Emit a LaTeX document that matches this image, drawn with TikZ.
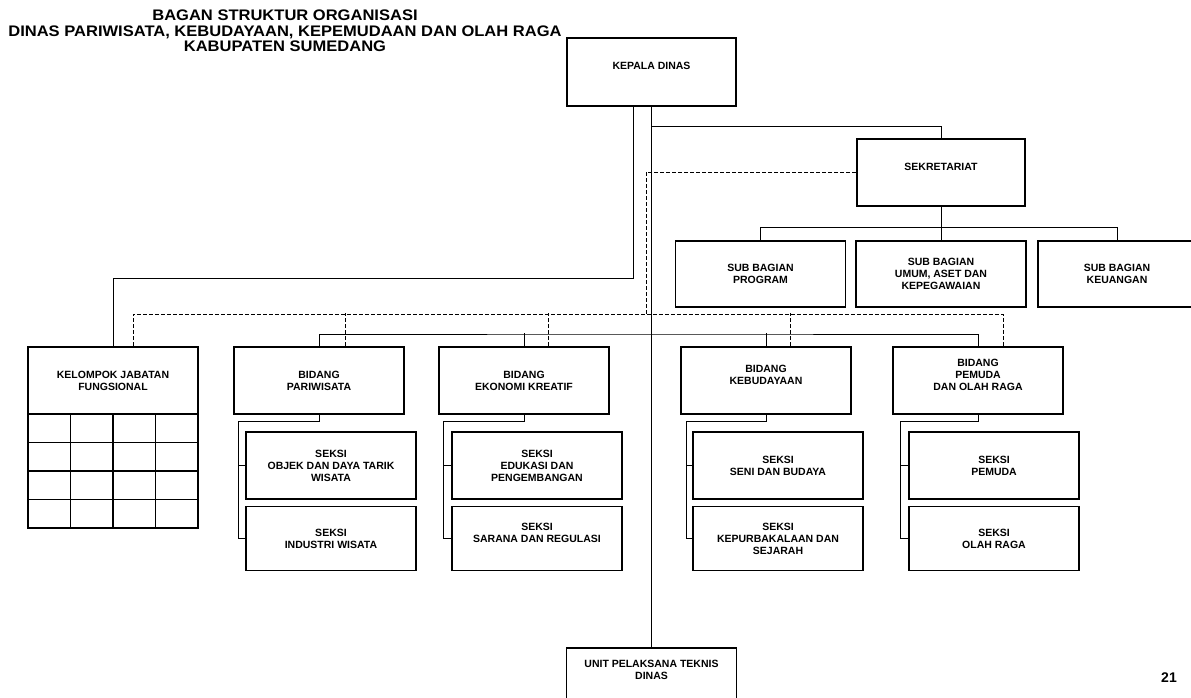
\documentclass[tikz,border=0pt]{standalone}
\usepackage{fontspec}
\setmainfont{Liberation Sans}
\newfontfamily\judulfont[FakeStretch=1.08]{Liberation Sans}
\tikzstyle{unit} = [rectangle, draw=black, line width=1.6pt, minimum width=170pt, minimum height=67pt, inner sep=2pt, align=center, font=\bfseries\fontsize{10.5}{12}\selectfont]
\tikzstyle{cell} = [rectangle, draw=black, line width=1.6pt, minimum width=42.5pt, minimum height=28.5pt]
\tikzstyle{judul} = [align=center, font=\judulfont\bfseries\fontsize{15.3}{15.5}\selectfont]
\tikzstyle{line} = [line width=0.9pt]
\tikzstyle{dline} = [line width=0.9pt, dash pattern=on 4pt off 2pt]
\newcommand{\spasi}{\\\mbox{}}

\begin{document}
\begin{tikzpicture}[x=1pt, y=-1pt, node distance=73pt]
	\useasboundingbox (0,0) rectangle (1191,698);
	
	\node (judul) [judul] at (285,31) {BAGAN STRUKTUR ORGANISASI\\DINAS PARIWISATA, KEBUDAYAAN, KEPEMUDAAN DAN OLAH RAGA\\KABUPATEN SUMEDANG};
	
	\node (kadis) [unit, minimum width=169pt, minimum height=68pt] at (651.5,72) {KEPALA DINAS\spasi};
	
	\node (sekre) [unit, minimum width=168pt] at (941,172.5) {SEKRETARIAT\spasi};
	
	\node (program) [unit, minimum height=66pt] at (760.5,274) {SUB BAGIAN\\PROGRAM};
	\node (umum) [unit, minimum height=66pt, right of=program, node distance=180.5pt] {SUB BAGIAN\\UMUM, ASET DAN\\KEPEGAWAIAN};
	\node (keuangan) [unit, minimum height=66pt, minimum width=158pt, right of=umum, node distance=176pt] {SUB BAGIAN\\KEUANGAN};
	
	\node (kjf) [unit] at (113,380.5) {KELOMPOK JABATAN\\FUNGSIONAL};
	\node (pariwisata) [unit, right of=kjf, node distance=206pt] {BIDANG\\PARIWISATA};
	\node (ekonomi) [unit, right of=pariwisata, node distance=205pt] {BIDANG\\EKONOMI KREATIF};
	\node (budaya) [unit, right of=ekonomi, node distance=242pt] {BIDANG\\KEBUDAYAAN\spasi};
	\node (pemuda) [unit, right of=budaya, node distance=212pt] {BIDANG\\PEMUDA\\DAN OLAH RAGA\spasi};
	
	\node (odtw) [unit, below of=pariwisata, node distance=85pt, xshift=12pt] {SEKSI\\OBJEK DAN DAYA TARIK\\WISATA};
	\node (industri) [unit, minimum height=64pt, below of=odtw] {SEKSI\\INDUSTRI WISATA};
	
	\node (edukasi) [unit, below of=ekonomi, node distance=85pt, xshift=13pt] {SEKSI\\EDUKASI DAN\\PENGEMBANGAN};
	\node (sarana) [unit, minimum height=64pt, below of=edukasi] {SEKSI\\SARANA DAN REGULASI\spasi};
	
	\node (seni) [unit, below of=budaya, node distance=85pt, xshift=12pt] {SEKSI\\SENI DAN BUDAYA};
	\node (sejarah) [unit, minimum height=64pt, below of=seni] {SEKSI\\KEPURBAKALAAN DAN\\SEJARAH};
	
	\node (spemuda) [unit, below of=pemuda, node distance=85pt, xshift=16pt] {SEKSI\\PEMUDA};
	\node (olahraga) [unit, minimum height=64pt, below of=spemuda] {SEKSI\\OLAH RAGA};
	
	\node (upt) [unit, below of=kadis, node distance=609.5pt] {UNIT PELAKSANA TEKNIS\\DINAS\spasi\spasi};
	
	% kotak jabatan fungsional
	\foreach \r in {0,...,3}
		\foreach \c in {0,...,3}
			\node (sel\r\c) [cell] at (49.25+42.5*\c, 428.25+28.5*\r) {};
	
	\node (hal) [font=\bfseries\fontsize{14}{14}\selectfont] at (1169,678) {21};
	
	% garis komando
	\coordinate (cabang) at (651.5,126);
	\coordinate (jfbar) at (633,278);
	\coordinate (subbar) at (941,227.5);
	\coordinate (bidbar) at (651.5,334);
	\coordinate (koor) at (646,314);
	
	\draw[line] (kadis.south) -- (upt.north);
	\draw[line] (cabang) -| (sekre.north);
	\draw[line] (jfbar |- kadis.south) -- (jfbar) -| (kjf.north);
	\draw[line] (sekre.south) -- (subbar);
	\draw[line] (program.north) |- (subbar) -| (keuangan.north);
	\draw[line] (umum.north) -- (subbar);
	\draw[line] (pariwisata.north) |- (bidbar) -| (pemuda.north);
	\draw[line] (ekonomi.north) -- ++(0,-13);
	\draw[line] (budaya.north) -- ++(0,-13);
	
	% garis koordinasi
	\draw[dline] (sekre.west) -| (koor);
	\draw[dline] ([xshift=20pt]kjf.north) |- (koor) -| ([xshift=25pt]pemuda.north);
	\draw[dline] ([xshift=26pt]pariwisata.north) -- ++(0,-33);
	\draw[dline] ([xshift=24pt]ekonomi.north) -- ++(0,-33);
	\draw[dline] ([xshift=24pt]budaya.north) -- ++(0,-33);
	
	% seksi
	\draw[line] (pariwisata.south) -- ++(0,7) -| ([xshift=-7pt]odtw.west) -- (odtw.west);
	\draw[line] ([xshift=-7pt]odtw.west) |- (industri.west);
	\draw[line] (ekonomi.south) -- ++(0,7) -| ([xshift=-8pt]edukasi.west) -- (edukasi.west);
	\draw[line] ([xshift=-8pt]edukasi.west) |- (sarana.west);
	\draw[line] (budaya.south) -- ++(0,7) -| ([xshift=-6pt]seni.west) -- (seni.west);
	\draw[line] ([xshift=-6pt]seni.west) |- (sejarah.west);
	\draw[line] (pemuda.south) -- ++(0,7) -| ([xshift=-8pt]spemuda.west) -- (spemuda.west);
	\draw[line] ([xshift=-8pt]spemuda.west) |- (olahraga.west);
	
\end{tikzpicture}
\end{document}
